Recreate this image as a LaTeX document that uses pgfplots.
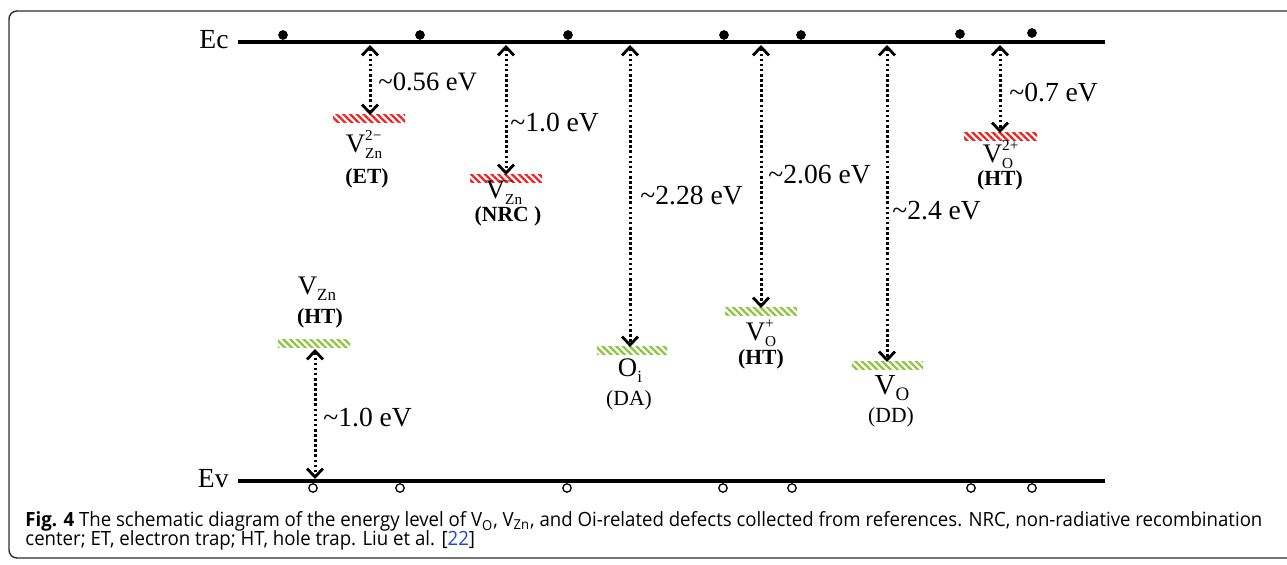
\documentclass[border=0pt]{standalone}
\usepackage{fontspec}
\setmainfont{Liberation Serif}
\newfontfamily\capfont{Open Sans}
\usepackage{graphicx}
\usepackage{pgfplots}
\pgfplotsset{compat=1.18}
\usetikzlibrary{arrows.meta,patterns.meta}
\definecolor{hred}{RGB}{240,34,34}
\definecolor{hgreen}{RGB}{140,198,63}
\definecolor{linkblue}{RGB}{38,70,200}
\definecolor{framec}{RGB}{45,45,45}
\newcommand{\lab}{\fontsize{13.8}{15}\selectfont}
\newcommand{\nam}{\fontsize{13.4}{15}\selectfont}
\newcommand{\tag}{\fontsize{10.8}{12}\selectfont}
\newcommand{\dfc}[3]{V\rlap{\raisebox{6.3pt}{\fontsize{7.6}{8}\selectfont #3}}\raisebox{-2.8pt}{\fontsize{7.6}{8}\selectfont #2}}
\newsavebox\capone
\newlength\capw
\begin{document}
\sbox\capone{\capfont\fontsize{9.8}{11}\selectfont\textbf{Fig. 4} The schematic diagram of the energy level of V\textsubscript{O}, V\textsubscript{Zn}, and Oi-related defects collected from references. NRC, non-radiative recombination}%
\setlength\capw{\wd\capone}%
\pgfmathsetmacro\capsx{618.5pt/\capw}%
\begin{tikzpicture}
\begin{axis}[
  scale only axis, width=643.5pt, height=282.5pt,
  xmin=0, xmax=1287, ymin=0, ymax=565, y dir=reverse,
  hide axis, clip=false,
  darr/.style={black, line width=1.5pt, dash pattern=on 1.3pt off 1.25pt,
    arrows={Straight Barb[length=4.2pt,width=8pt,line width=1.4pt]-Straight Barb[length=4.2pt,width=8pt,line width=1.4pt]}},
  rhatch/.style={draw=none, pattern={Lines[angle=-45,distance=2.4pt,line width=1.15pt]}, pattern color=hred},
  ghatch/.style={draw=none, pattern={Lines[angle=-45,distance=2.4pt,line width=1.15pt]}, pattern color=hgreen},
]
\coordinate (bl) at (axis cs:0,565);
\coordinate (tr) at (axis cs:1287,0);
% band edges
\addplot[black, line width=1.6pt] coordinates {(238,42) (1105,42)};
\addplot[black, line width=1.6pt] coordinates {(238,481) (1105,481)};
% electrons and holes
\addplot[only marks, mark=*, mark size=2.2pt, black] coordinates {(283,35) (420,35) (568,35) (724,35) (801,35) (960,34) (1032,33)};
\addplot[only marks, mark=o, mark size=2.1pt, black, mark options={line width=0.65pt}] coordinates {(313,488) (400,488) (567,488) (723,488) (792,488) (971,488) (1032,488)};
% hatched levels
\addplot[rhatch] coordinates {(333,115) (405,115) (405,123) (333,123) (333,115)};
\addplot[rhatch] coordinates {(470,175) (542,175) (542,183) (470,183) (470,175)};
\addplot[ghatch] coordinates {(597,347) (667,347) (667,355) (597,355) (597,347)};
\addplot[ghatch] coordinates {(725,308) (797,308) (797,316) (725,316) (725,308)};
\addplot[ghatch] coordinates {(852,362) (923,362) (923,370) (852,370) (852,362)};
\addplot[rhatch] coordinates {(964,133) (1037,133) (1037,141) (964,141) (964,133)};
\addplot[ghatch] coordinates {(278,340) (350,340) (350,348) (278,348) (278,340)};
% arrows
\addplot[darr] coordinates {(370,45) (370,115)};
\addplot[darr] coordinates {(506,45) (506,175)};
\addplot[darr] coordinates {(630,45) (630,347)};
\addplot[darr] coordinates {(761,45) (761,308)};
\addplot[darr] coordinates {(887,45) (887,362)};
\addplot[darr] coordinates {(1000,45) (1000,133)};
\addplot[darr] coordinates {(315,349) (315,479)};
% band labels
\node[anchor=base east, inner sep=0] at (axis cs:229,49) {\lab Ec};
\node[anchor=base east, inner sep=0] at (axis cs:229,488) {\lab Ev};
% energies
\node[anchor=west, inner sep=0] at (axis cs:378,82) {\fontsize{13.3}{15}\selectfont\textasciitilde0.56 eV};
\node[anchor=west, inner sep=0] at (axis cs:510,123) {\lab\textasciitilde1.0 eV};
\node[anchor=west, inner sep=0] at (axis cs:640,196) {\lab\textasciitilde2.28 eV};
\node[anchor=west, inner sep=0] at (axis cs:768,175) {\lab\textasciitilde2.06 eV};
\node[anchor=west, inner sep=0] at (axis cs:892,211) {\lab\textasciitilde2.4 eV};
\node[anchor=west, inner sep=0] at (axis cs:1009,93) {\lab\textasciitilde0.7 eV};
\node[anchor=west, inner sep=0] at (axis cs:323,418) {\lab\textasciitilde1.0 eV};
% defect names
\node[anchor=base, inner sep=0] at (axis cs:364,153) {\nam\dfc{V}{Zn}{2−}};
\node[anchor=base, inner sep=0] at (axis cs:367,184) {\tag\textbf{(ET)}};
\node[anchor=base, inner sep=0] at (axis cs:504,199) {\nam\dfc{V}{Zn}{−}};
\node[anchor=base, inner sep=0] at (axis cs:508,222) {\tag\textbf{(NRC )}};
\node[anchor=base, inner sep=0] at (axis cs:630,377) {\nam O\raisebox{-2.8pt}{\fontsize{8.5}{9}\selectfont i}};
\node[anchor=base, inner sep=0] at (axis cs:629,406) {\tag (DA)};
\node[anchor=base, inner sep=0] at (axis cs:761,341) {\nam\dfc{V}{O}{+}};
\node[anchor=base, inner sep=0] at (axis cs:761,365) {\tag\textbf{(HT)}};
\node[anchor=base, inner sep=0] at (axis cs:892,395) {\fontsize{14.5}{16}\selectfont V\raisebox{-2.8pt}{\fontsize{9.5}{10}\selectfont O}};
\node[anchor=base, inner sep=0] at (axis cs:891,423) {\tag (DD)};
\node[anchor=base, inner sep=0] at (axis cs:998,163) {\nam\dfc{V}{O}{2+}};
\node[anchor=base, inner sep=0] at (axis cs:1000,186) {\tag\textbf{(HT)}};
\node[anchor=base, inner sep=0] at (axis cs:317,295) {\nam V\raisebox{-2.8pt}{\fontsize{8.5}{9}\selectfont Zn}};
\node[anchor=base, inner sep=0] at (axis cs:320,324) {\tag\textbf{(HT)}};
% caption
\node[anchor=base west, inner sep=0] at (axis cs:25,527) {\scalebox{\capsx}[1]{\usebox\capone}};
\node[anchor=base west, inner sep=0] at (axis cs:25,546) {\scalebox{\capsx}[1]{\capfont\fontsize{9.8}{11}\selectfont center; ET, electron trap; HT, hole trap. Liu et al. [{\color{linkblue}22}]}};
% frame
\draw[framec, line width=0.7pt, rounded corners=4pt] (axis cs:1295,11) -- (axis cs:9,11) -- (axis cs:9,558) -- (axis cs:1295,558);
\end{axis}
\pgfresetboundingbox
\useasboundingbox (bl) rectangle (tr);
\end{tikzpicture}
\end{document}
